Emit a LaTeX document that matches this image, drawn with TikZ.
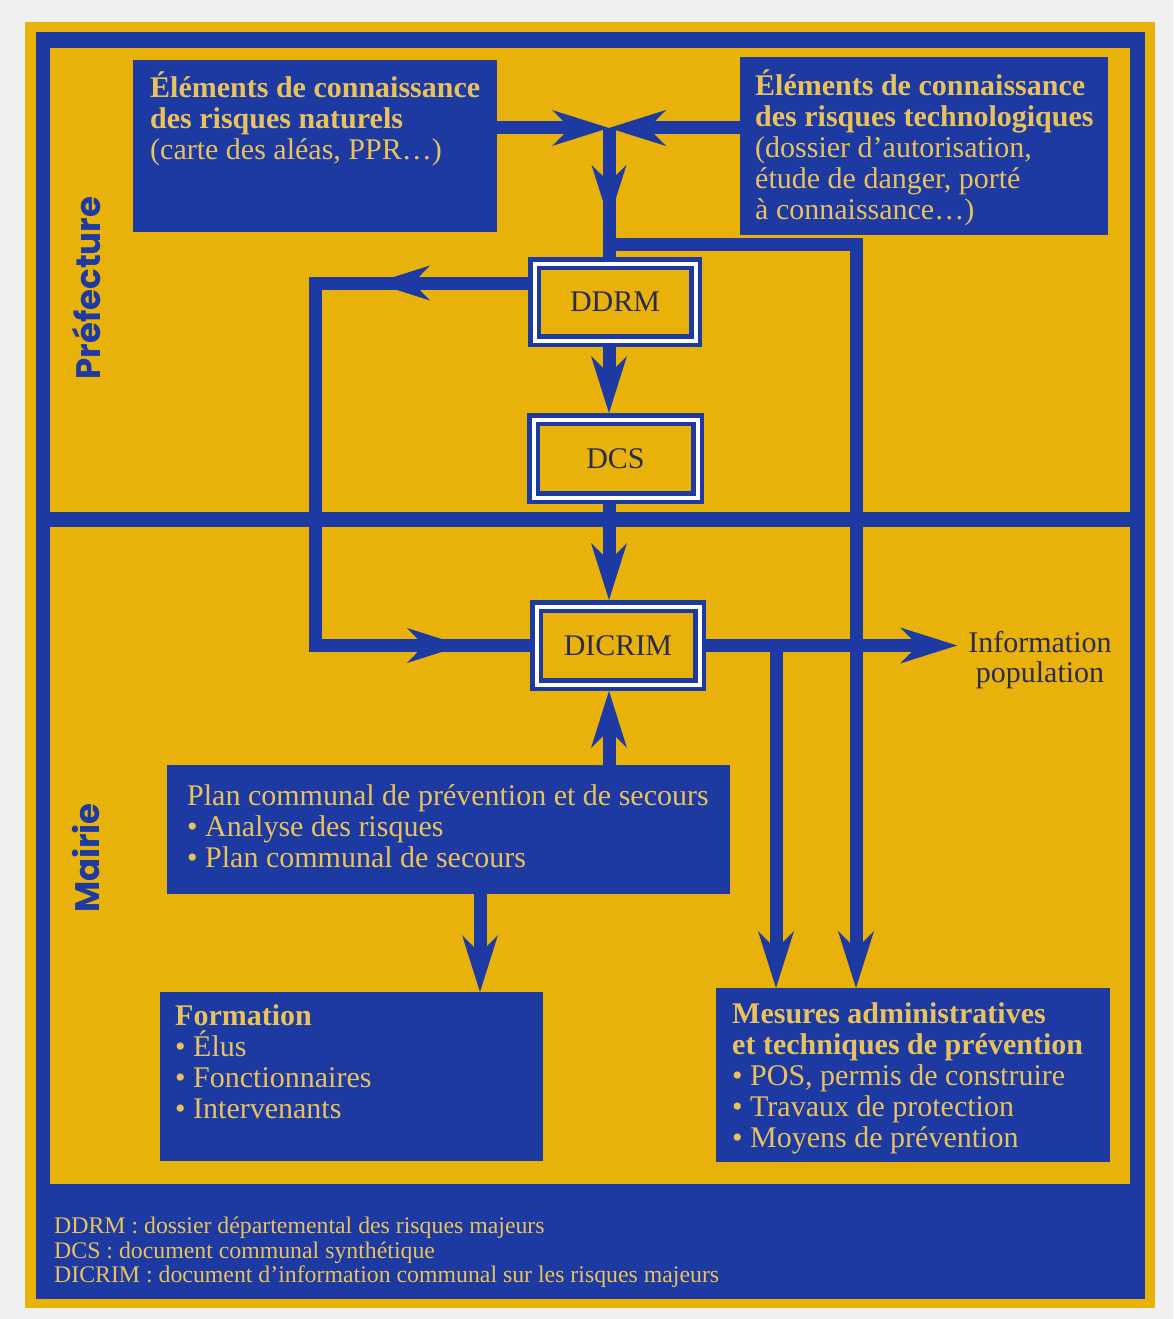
\documentclass[tikz,border=0pt]{standalone}
\usepackage{fontspec}
\setmainfont{Liberation Serif}
\newfontfamily\labelfont{Poppins}
\usetikzlibrary{arrows.meta}
\definecolor{myblue}{HTML}{1D3AA2}
\definecolor{myyellow}{HTML}{E8B20A}
\definecolor{gold}{HTML}{E9C25C}
\definecolor{darktext}{HTML}{2B2B50}
\definecolor{pagebg}{HTML}{F0F0F0}
\pgfdeclarelayer{bg}
\pgfdeclarelayer{conn}
\pgfsetlayers{bg,conn,main}
\newcommand\fl{\vphantom{Él}}
\tikzset{
  bluebox/.style={fill=myblue, inner sep=0pt, outer sep=0pt, anchor=north west},
  docbox/.style={draw=myblue, double=white, double distance=4pt, line width=4.5pt,
    fill=myyellow, outer sep=6.5pt, inner sep=0pt, text=darktext,
    font=\fontsize{30}{30}\selectfont},
  conn/.style={draw=myblue, line width=13pt, line join=miter},
  arr/.style={conn, -{Stealth[length=57pt, width=36pt, inset=18pt, line width=0pt]}},
  midarr/.style={conn, -{Stealth[length=55pt, width=35pt, inset=17pt, line width=0pt]}},
  boxtxt/.style={text=gold, anchor=north west, inner sep=0pt, align=left,
    font=\fontsize{30}{30.8}\selectfont},
  sidelabel/.style={rotate=90, text=myblue, font=\labelfont\bfseries\fontsize{34}{34}\selectfont},
}
\begin{document}
\begin{tikzpicture}[x=1pt,y=-1pt]
\useasboundingbox (0,0) rectangle (1173,1319);
\begin{pgfonlayer}{bg}
\fill[pagebg] (0,0) rectangle (1173,1319);
\fill[myyellow] (25,22) rectangle (1155,1308);
\fill[myblue] (36,32) rectangle (1145,1299);
\fill[myyellow] (50,48) rectangle (1130,512);
\fill[myyellow] (50,527) rectangle (1130,1184);
\end{pgfonlayer}

% blue boxes
\node[bluebox, minimum width=364pt, minimum height=172pt] (nat) at (133,60) {};
\node[bluebox, minimum width=368pt, minimum height=178pt] (tech) at (740,57) {};
\node[bluebox, minimum width=563pt, minimum height=129pt] (plan) at (167,765) {};
\node[bluebox, minimum width=383pt, minimum height=169pt] (form) at (160,992) {};
\node[bluebox, minimum width=394pt, minimum height=174pt] (mes) at (716,988) {};

% document boxes
\node[docbox, minimum width=161pt, minimum height=77pt] (ddrm) at (615,302) {DDRM};
\node[docbox, minimum width=164pt, minimum height=78pt] (dcs) at (615.5,458.5) {DCS};
\node[docbox, minimum width=163pt, minimum height=78pt] (dicrim) at (618,645.5) {DICRIM};

% box texts
\node[boxtxt] (natt) at (150,72) {\fl\textbf{Éléments de connaissance}\\\textbf{des risques naturels}\\(carte des aléas, PPR…)};
\node[boxtxt] (techt) at (755,70) {\fl\textbf{Éléments de connaissance}\\\textbf{des risques technologiques}\\(dossier d’autorisation,\\étude de danger, porté\\à connaissance…)};
\node[boxtxt] (plant) at (187,780) {\fl Plan communal de prévention et de secours\\• Analyse des risques\\• Plan communal de secours};
\node[boxtxt] (formt) at (175,1000) {\fl\textbf{Formation}\\• Élus\\• Fonctionnaires\\• Intervenants};
\node[boxtxt] (mest) at (732,998) {\fl\textbf{Mesures administratives}\\\textbf{et techniques de prévention}\\• POS, permis de construire\\• Travaux de protection\\• Moyens de prévention};
\node[boxtxt, font=\fontsize{23.8}{24.5}\selectfont] (legend) at (54,1213) {\fl DDRM : dossier départemental des risques majeurs\\DCS : document communal synthétique\\DICRIM : document d’information communal sur les risques majeurs};

\node[text=darktext, align=center, inner sep=11pt, font=\fontsize{30}{30}\selectfont] (info) at (1040,660) {Information\\population};

\node[sidelabel] (pref) at (86,288) {Préfecture};
\node[sidelabel] (mairie) at (86,858) {Mairie};

% coordinates
\coordinate (J) at (609,128);
\coordinate (Jd) at (609,220);
\coordinate (B) at (609,244);
\coordinate (Bc) at (856,244);
\coordinate (L1) at (315,283);
\coordinate (TL) at (375,283);
\coordinate (TRx) at (462,0);
\coordinate (M1x) at (776,0);
\coordinate (Fx) at (480,0);

\begin{pgfonlayer}{conn}
\draw[arr] (nat.east |- J) -- (J);
\draw[arr] (tech.west |- J) -- (J);
\draw[conn] (J) -- (J |- ddrm.north);
\draw[midarr] (J) -- (Jd);
\draw[arr] (B) -- (Bc) -- (Bc |- mes.north);
\draw[conn] (ddrm.west |- L1) -- (L1) -- (L1 |- dicrim.west) -- (dicrim.west);
\draw[midarr] (ddrm.west |- L1) -- (TL);
\draw[midarr] (L1 |- dicrim.west) -- (TRx |- dicrim.west);
\draw[arr] (J |- ddrm.south) -- (J |- dcs.north);
\draw[arr] (J |- dcs.south) -- (J |- dicrim.north);
\draw[arr] (J |- plan.north) -- (J |- dicrim.south);
\draw[arr] (Fx |- plan.south) -- (Fx |- form.north);
\draw[arr] (dicrim.east) -- (dicrim.east -| info.west);
\draw[arr] (M1x |- dicrim.east) -- (M1x |- mes.north);
\end{pgfonlayer}
\end{tikzpicture}
\end{document}
